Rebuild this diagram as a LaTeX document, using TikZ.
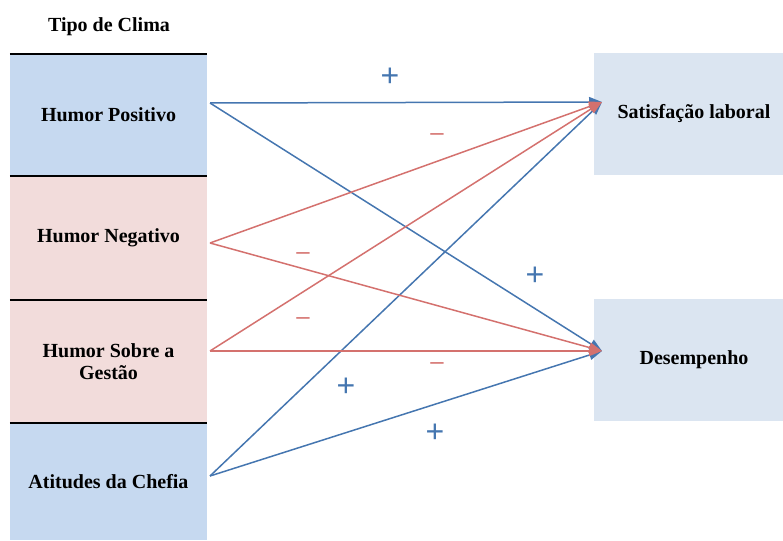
\documentclass[tikz,border=0pt]{standalone}
\usepackage{fontspec}
\setmainfont{Liberation Serif}
\newfontfamily\signfont{Liberation Sans}
\usetikzlibrary{arrows.meta}
\definecolor{climablue}{HTML}{C6D9F0}
\definecolor{climapink}{HTML}{F2DCDB}
\definecolor{outbox}{HTML}{DBE5F1}
\definecolor{posline}{HTML}{4576B0}
\definecolor{negline}{HTML}{D4716E}
\tikzset{
  x=1pt, y=-1pt,
  climabox/.style={inner sep=0pt, minimum width=197pt, align=center,
    font=\fontsize{20}{22}\selectfont\bfseries},
  resultbox/.style={fill=outbox, inner sep=0pt, minimum width=200pt,
    minimum height=122pt, font=\fontsize{20}{22}\selectfont\bfseries},
  divider/.style={line width=1.6pt, black},
  link/.style={line width=1.5pt, -{Triangle[length=13pt,width=10pt]}},
  poslink/.style={link, posline},
  neglink/.style={link, negline},
  plussign/.style={font=\signfont\fontsize{32}{32}\selectfont, inner sep=0pt, text=posline},
  minussign/.style={font=\signfont\fontsize{24}{24}\selectfont, inner sep=0pt, text=negline},
}
\begin{document}
\begin{tikzpicture}
\useasboundingbox (0,0) rectangle (783,540);

% climate types (left column)
\node[anchor=center, font=\fontsize{20}{22}\selectfont\bfseries] (titulo) at (109,27) {Tipo de Clima};
\node[climabox, fill=climablue, minimum height=122pt] (hp) at (108.5,115) {Humor Positivo};
\node[climabox, fill=climapink, minimum height=124pt] (hn) at (108.5,238) {Humor Negativo};
\node[climabox, fill=climapink, minimum height=123pt] (hs) at (108.5,361.5) {Humor Sobre a\\Gestão};
\node[climabox, fill=climablue, minimum height=117pt] (ac) at (108.5,481.5) {Atitudes da Chefia};

\draw[divider] (hp.north west) -- (hp.north east);
\draw[divider] (hn.north west) -- (hn.north east);
\draw[divider] (hs.north west) -- (hs.north east);
\draw[divider] (ac.north west) -- (ac.north east);

% outcomes (right column)
\node[resultbox] (sat) at (694,114) {Satisfação laboral};
\node[resultbox] (des) at (694,360) {Desempenho};

% connection ports
\coordinate (hpout) at (210,103);
\coordinate (hnout) at (210,243);
\coordinate (hsout) at (210,351);
\coordinate (acout) at (210,476);
\coordinate (satin) at (602,102);
\coordinate (desin) at (602,351);

% positive effects
\draw[poslink] (hpout) -- (satin);
\draw[poslink] (hpout) -- (desin);
\draw[poslink] (acout) -- (satin);
\draw[poslink] (acout) -- (desin);
% negative effects
\draw[neglink] (hnout) -- (satin);
\draw[neglink] (hnout) -- (desin);
\draw[neglink] (hsout) -- (satin);
\draw[neglink] (hsout) -- (desin);

% signs of the effects
\node[plussign] (s1) at (390,77) {+};
\node[minussign] (s2) at (437,137) {–};
\node[minussign] (s3) at (303,256) {–};
\node[plussign] (s4) at (535,276) {+};
\node[minussign] (s5) at (303,321) {–};
\node[minussign] (s6) at (437,366) {–};
\node[plussign] (s7) at (346,387) {+};
\node[plussign] (s8) at (435,433) {+};
\end{tikzpicture}
\end{document}
